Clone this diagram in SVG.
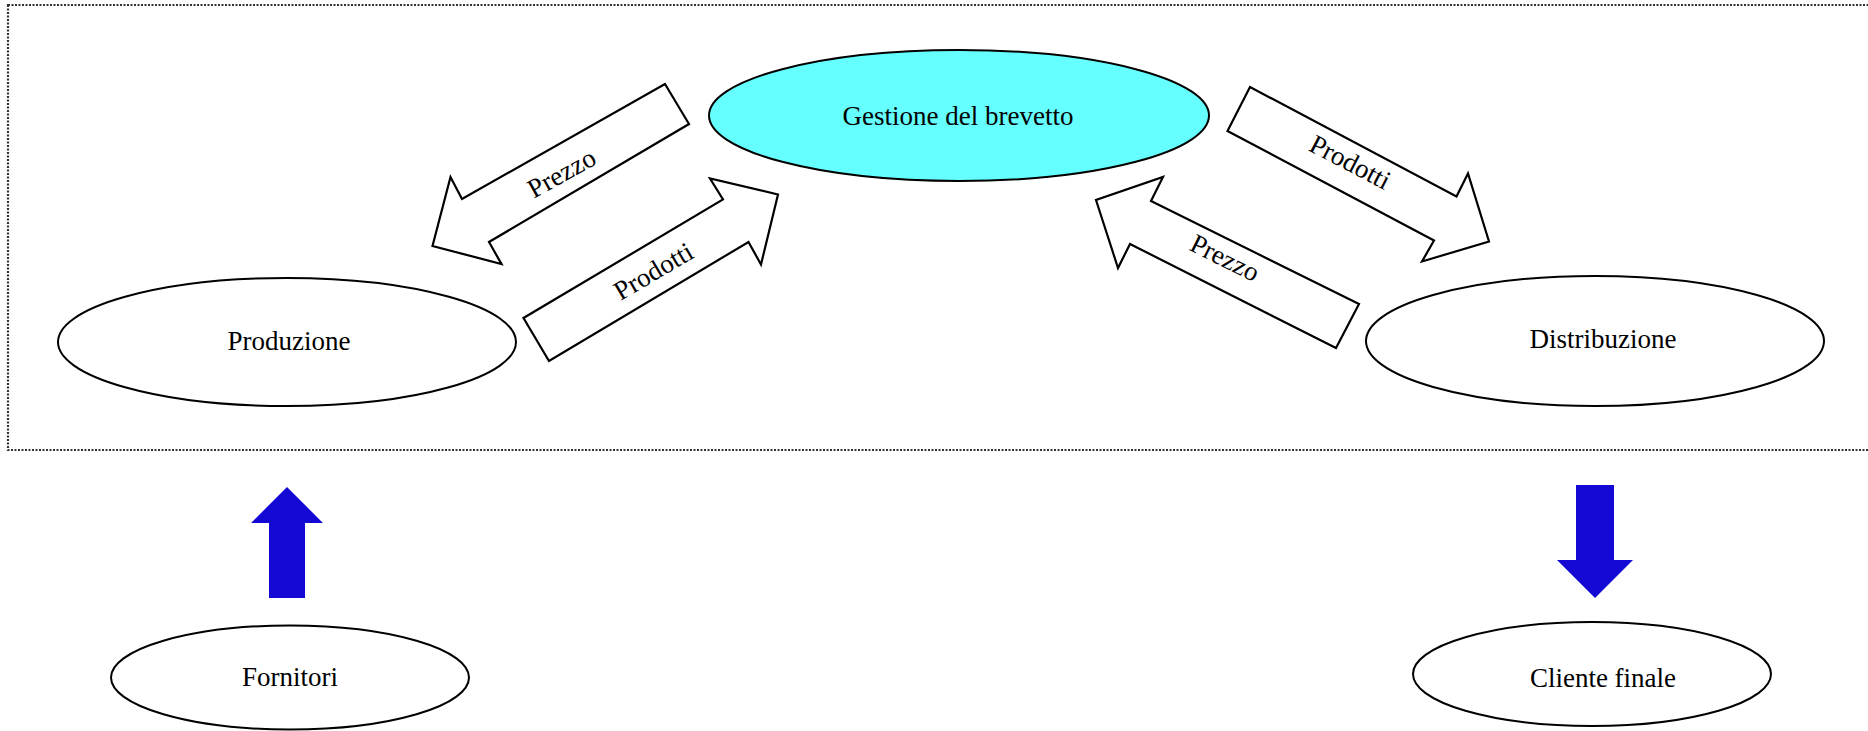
<svg xmlns="http://www.w3.org/2000/svg" width="1868" height="731" viewBox="0 0 1868 731">
<style>
.node{fill:#fff;stroke:#000;stroke-width:2}
.hl{fill:#66ffff}
.t{font-family:"Liberation Serif","Times New Roman",serif;font-size:27px;fill:#000;text-anchor:middle}
.blk{fill:#fff;stroke:#000;stroke-width:2.2;stroke-linejoin:miter}
.blue{fill:#1408d4;stroke:none}
.frame{fill:none;stroke:#333;stroke-width:2.2;stroke-dasharray:2,1.5}
</style>
<rect width="1868" height="731" fill="#fff"/>
<rect class="frame" x="8" y="5" width="1880" height="445"/>
<g id="connectors">
  <g id="prezzo-left">
    <polygon class="blk" points="665,84 689,124 489,242 501.5,264 432.5,246 450.5,177 462,199"/>
    <text class="t" transform="translate(566,181) rotate(-29)">Prezzo</text>
  </g>
  <g id="prodotti-left">
    <polygon class="blk" points="523.5,318 549,361 748.5,242 761,264.5 778,194.5 710,178.5 723,199.5"/>
    <text class="t" transform="translate(658,279) rotate(-30.5)">Prodotti</text>
  </g>
  <g id="prodotti-right">
    <polygon class="blk" points="1250,87 1227.5,131 1434,240.5 1422,261.5 1489,241.5 1468,173.5 1456.5,196.5"/>
    <text class="t" transform="translate(1346,170) rotate(27.5)">Prodotti</text>
  </g>
  <g id="prezzo-right">
    <polygon class="blk" points="1359,304 1336,348 1130,244 1118,268 1096,200 1163,177 1151,201"/>
    <text class="t" transform="translate(1221,266) rotate(26.5)">Prezzo</text>
  </g>
  <polygon id="arrow-up" class="blue" points="287,487 323,523 305,523 305,598 269,598 269,523 251,523"/>
  <polygon id="arrow-down" class="blue" points="1576,485 1614,485 1614,560 1633,560 1595,598 1557,560 1576,560"/>
</g>
<g id="gestione">
  <ellipse class="node hl" cx="959" cy="115.5" rx="250" ry="65.5"/>
  <text class="t" x="958" y="125">Gestione del brevetto</text>
</g>
<g id="produzione">
  <ellipse class="node" cx="287" cy="342" rx="229" ry="64"/>
  <text class="t" x="289" y="350">Produzione</text>
</g>
<g id="distribuzione">
  <ellipse class="node" cx="1595" cy="341" rx="229" ry="65"/>
  <text class="t" x="1603" y="348">Distribuzione</text>
</g>
<g id="fornitori">
  <ellipse class="node" cx="290" cy="677.5" rx="179" ry="52"/>
  <text class="t" x="290" y="686">Fornitori</text>
</g>
<g id="cliente">
  <ellipse class="node" cx="1592" cy="674" rx="179" ry="52"/>
  <text class="t" x="1603" y="687">Cliente finale</text>
</g>
</svg>
